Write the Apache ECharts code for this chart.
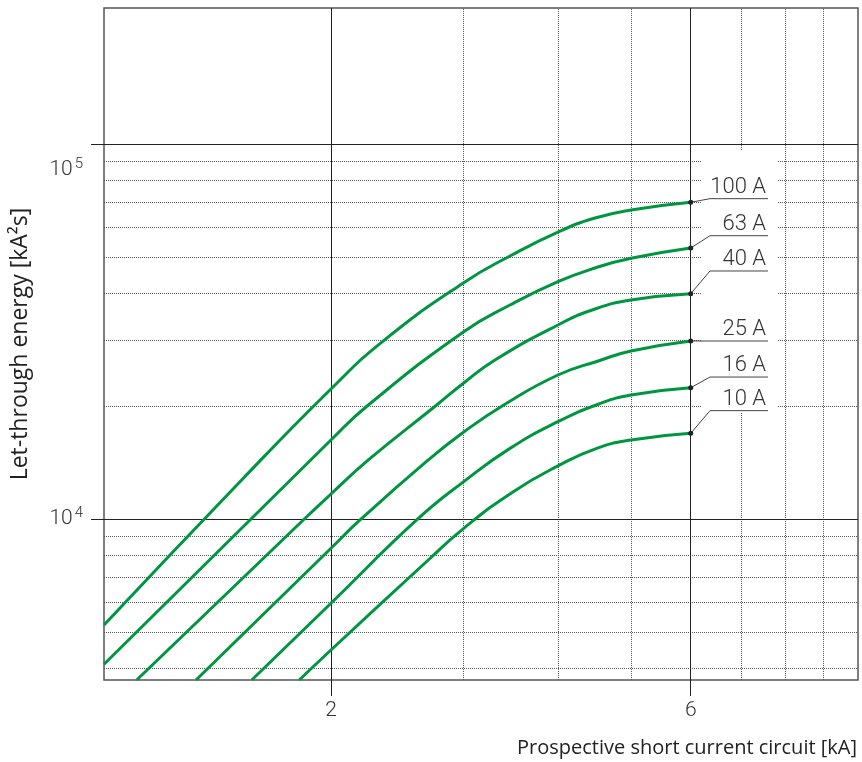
<!DOCTYPE html>
<html>
<head>
<meta charset="utf-8">
<script src="https://cdn.jsdelivr.net/npm/echarts@6/dist/echarts.min.js"></script>
<style>html,body{margin:0;padding:0;background:#fff}#chart{width:862px;height:762px}</style>
</head>
<body>
<div id="chart"></div>
<script>
// ---- data (x: prospective short-circuit current kA, y: let-through energy kA²s)
const seriesNames = ['100 A', '63 A', '40 A', '25 A', '16 A', '10 A'];
const curve100A = [[1.0,5216],[1.5225,12710],[2.0,22220],[2.3518,29960],[3.0,42680],[3.4552,50270],[4.0,58250],[4.4792,63480],[5.0,66680],[6.0,69920]];
const curve63A  = [[1.0,4099],[2.0,16240],[2.2418,20140],[3.0,31590],[3.4552,37210],[4.0,42940],[4.4792,46700],[5.0,49570],[6.0,52800]];
const curve40A  = [[1.105,3721],[1.8378,9940],[2.0,11660],[2.2418,14370],[2.762,20140],[3.0,23050],[3.3005,26550],[4.0,32910],[4.4792,36310],[5.0,38370],[6.0,39880]];
const curve25A  = [[1.3245,3721],[2.0,8355],[2.1856,9940],[2.692,14370],[3.0,17060],[3.4028,20230],[4.0,24210],[4.5245,26390],[5.0,28050],[6.0,29830]];
const curve16A  = [[1.5703,3721],[2.0,5961],[2.5983,9940],[3.0,12580],[3.4552,15430],[4.0,18180],[4.5245,20230],[5.0,21410],[6.0,22390]];
const curve10A  = [[1.8155,3721],[2.0,4474],[2.692,7775],[3.0,9445],[3.4903,11830],[4.0,13850],[4.5025,15430],[5.0,16240],[6.0,16920]];
const curves = [curve100A, curve63A, curve40A, curve25A, curve16A, curve10A];

// label leader lines: level of the horizontal underline for each label
const labelLineY = [71480, 56940, 45850, 29830, 23910, 19450];
const leaderKneeX = 6.364;
const leaderEndX = 7.596;

// axes, ticks, grid lines
const xRange = [1, 10];
const yRange = [3721, 230500];
const xTickValues = [2, 6];
const yTickValues = [10000, 100000];
const xMinorGrid = [3, 4, 5, 7, 8, 9];
const yMinorGrid = [4000, 5000, 6000, 7000, 8000, 9000, 20000, 30000, 40000, 50000, 60000, 70000, 80000, 90000];
const labelMaskX = [6.2, 7.81];
const labelMaskY = [19170, 96400];

const xTitle = 'Prospective short current circuit [kA]';
const yTitle = 'Let-through energy [kA\u00B2s]';

const GREEN = '#009640';
const tickFont = 'Roboto, "Liberation Sans", sans-serif';
const titleFont = '"Open Sans", "Noto Sans", sans-serif';

const chart = echarts.init(document.getElementById('chart'), null, {renderer: 'canvas'});

const gridLineData = [];
xMinorGrid.forEach(v => gridLineData.push({xAxis: v, lineStyle: {type: 'dotted', color: '#555', width: 1}}));
yMinorGrid.forEach(v => gridLineData.push({yAxis: v, lineStyle: {type: 'dotted', color: '#555', width: 1}}));
xTickValues.forEach(v => gridLineData.push({xAxis: v, lineStyle: {type: 'solid', color: '#222', width: 1}}));
yTickValues.forEach(v => gridLineData.push({yAxis: v, lineStyle: {type: 'solid', color: '#222', width: 1}}));

const series = [];
series.push({
  type: 'line', data: [], silent: true, z: 1,
  markLine: {silent: true, z: 1, symbol: ['none', 'none'], animation: false, label: {show: false}, data: gridLineData}
});
series.push({
  type: 'line', data: [], silent: true, z: 2,
  markArea: {silent: true, z: 2, itemStyle: {color: '#ffffff'}, label: {show: false},
    data: [[{xAxis: labelMaskX[0], yAxis: labelMaskY[0]}, {xAxis: labelMaskX[1], yAxis: labelMaskY[1]}]]}
});
curves.forEach((c, i) => {
  series.push({
    name: seriesNames[i], type: 'line', data: c, z: 3, silent: true,
    showSymbol: false, smooth: 0.5,
    lineStyle: {color: GREEN, width: 3}
  });
});
curves.forEach((c, i) => {
  const endY = c[c.length - 1][1];
  series.push({
    name: seriesNames[i] + ' label', type: 'line', z: 4, silent: true,
    lineStyle: {color: '#444', width: 1},
    showSymbol: true,
    data: [
      {value: [c[c.length - 1][0], endY], symbol: 'circle', symbolSize: 5, itemStyle: {color: '#222'}},
      {value: [leaderKneeX, labelLineY[i]], symbol: 'none'},
      {value: [leaderEndX, labelLineY[i]], symbol: 'circle', symbolSize: 1, itemStyle: {color: 'rgba(0,0,0,0)'},
        label: {show: true, formatter: seriesNames[i], position: 'top', distance: 0, align: 'right',
          verticalAlign: 'bottom', offset: [-2, 0], fontSize: 22, fontWeight: 300, fontFamily: tickFont, color: '#333'}}
    ]
  });
});

chart.setOption({
  animation: false,
  backgroundColor: '#ffffff',
  grid: {left: 104, right: 4, top: 8, bottom: 82, containLabel: false, outerBoundsMode: 'none',
    show: true, borderColor: '#555', borderWidth: 1.5, backgroundColor: 'transparent'},
  xAxis: {
    type: 'log', logBase: 10, min: xRange[0], max: xRange[1],
    axisLine: {show: false}, splitLine: {show: false},
    axisTick: {show: true, customValues: xTickValues, length: 16, lineStyle: {color: '#222', width: 1}},
    axisLabel: {customValues: xTickValues, margin: 20, fontSize: 21, fontWeight: 300, fontFamily: tickFont, color: '#333',
      formatter: v => String(Math.round(v))},
    name: xTitle, nameLocation: 'end', nameGap: 0, nameMoveOverlap: false,
    nameTextStyle: {align: 'right', verticalAlign: 'top', padding: [56, 1, 0, 0], fontSize: 20, lineHeight: 24, fontFamily: titleFont, color: '#222'}
  },
  yAxis: {
    type: 'log', logBase: 10, min: yRange[0], max: yRange[1],
    axisLine: {show: false}, splitLine: {show: false},
    axisTick: {show: true, customValues: yTickValues, length: 13, lineStyle: {color: '#222', width: 1}},
    axisLabel: {customValues: yTickValues, margin: 21, lineHeight: 26, fontFamily: tickFont, color: '#333',
      formatter: v => {
        const e = Math.round(Math.log10(v));
        return (e === 5 ? '\n\n' : '') + '{b|10}{s|' + e + '}';
      },
      rich: {
        b: {fontSize: 21, fontWeight: 300, fontFamily: tickFont, color: '#333', lineHeight: 26},
        s: {fontSize: 15, fontWeight: 300, fontFamily: tickFont, color: '#333', verticalAlign: 'top', padding: [0, 0, 0, 2]}
      }
    },
    name: yTitle, nameLocation: 'middle', nameGap: 72, nameRotate: 90, nameMoveOverlap: false,
    nameTextStyle: {fontSize: 23, fontFamily: titleFont, color: '#222'}
  },
  series: series
});
</script>
</body>
</html>
